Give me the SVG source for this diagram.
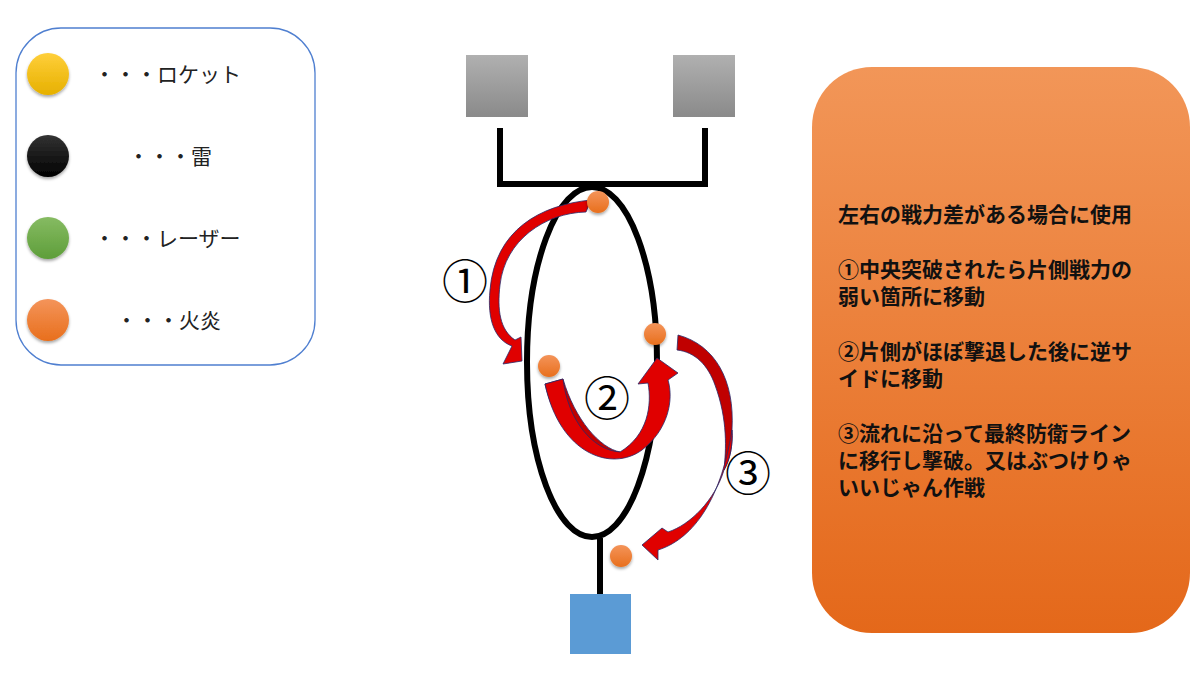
<svg xmlns="http://www.w3.org/2000/svg" width="1200" height="675" viewBox="0 0 1200 675">
<defs>
<linearGradient id="gy" x1="0" y1="0" x2="0" y2="1"><stop offset="0" stop-color="#ffcf3a"/><stop offset="1" stop-color="#e6b000"/></linearGradient>
<linearGradient id="gk" x1="0" y1="0" x2="0" y2="1"><stop offset="0" stop-color="#333"/><stop offset="1" stop-color="#000"/></linearGradient>
<linearGradient id="gg" x1="0" y1="0" x2="0" y2="1"><stop offset="0" stop-color="#86bb62"/><stop offset="1" stop-color="#5e9e3a"/></linearGradient>
<linearGradient id="go" x1="0" y1="0" x2="0" y2="1"><stop offset="0" stop-color="#f4945a"/><stop offset="1" stop-color="#e86f1c"/></linearGradient>
<linearGradient id="gbox" x1="0" y1="0" x2="0" y2="1"><stop offset="0" stop-color="#f29658"/><stop offset="1" stop-color="#e4681a"/></linearGradient>
<linearGradient id="gsq" x1="0" y1="0" x2="0" y2="1"><stop offset="0" stop-color="#b0b0b0"/><stop offset="1" stop-color="#8a8a8a"/></linearGradient>
<filter id="sh" x="-30%" y="-30%" width="160%" height="170%"><feDropShadow dx="0" dy="2" stdDeviation="1.5" flood-opacity="0.35"/></filter>
</defs>
<style>
.t{font-family:"Noto Sans CJK JP","Noto Sans",sans-serif;font-size:21px;fill:#222}
.b{font-family:"Noto Sans CJK JP",sans-serif;font-size:21px;font-weight:bold;fill:#111}
.n{font-family:"Noto Sans CJK JP",sans-serif;font-size:46px;fill:#000}
.arr{fill:#e00000;stroke:#2a2a6a;stroke-width:0.8}
.dk{fill:#c00000;stroke:#2a2a6a;stroke-width:0.8}
.dot{fill:url(#go);filter:url(#sh)}
</style>
<g id="legend">
<rect x="16" y="28" width="299" height="337" rx="45" fill="#fff" stroke="#4f7fd0" stroke-width="1.3"/>
<circle cx="48" cy="74" r="21" fill="url(#gy)" filter="url(#sh)"/>
<circle cx="48" cy="156" r="21" fill="url(#gk)" filter="url(#sh)"/>
<circle cx="48" cy="238" r="21" fill="url(#gg)" filter="url(#sh)"/>
<circle cx="48" cy="320" r="21" fill="url(#go)" filter="url(#sh)"/>
<text class="t" x="94" y="82">・・・ロケット</text>
<text class="t" x="128" y="164">・・・雷</text>
<text class="t" x="94" y="246">・・・レーザー</text>
<text class="t" x="116" y="328">・・・火炎</text>
</g>
<g id="info">
<rect x="812" y="67" width="378" height="566" rx="60" fill="url(#gbox)"/>
<text class="b" x="838" y="222">左右の戦力差がある場合に使用</text>
<text class="b" x="838" y="277">①中央突破されたら片側戦力の</text>
<text class="b" x="838" y="304">弱い箇所に移動</text>
<text class="b" x="838" y="359">②片側がほぼ撃退した後に逆サ</text>
<text class="b" x="838" y="386">イドに移動</text>
<text class="b" x="838" y="441">③流れに沿って最終防衛ライン</text>
<text class="b" x="838" y="468">に移行し撃破。又はぶつけりゃ</text>
<text class="b" x="838" y="495">いいじゃん作戦</text>
</g>
<g id="formation">
<rect id="sqL" x="466" y="55" width="62" height="62" fill="url(#gsq)"/>
<rect id="sqR" x="673" y="55" width="62" height="62" fill="url(#gsq)"/>
<rect id="sqB" x="570" y="594" width="61" height="60" fill="#5b9bd5"/>
<path d="M500 128V184H705V128" fill="none" stroke="#000" stroke-width="6"/>
<line x1="600" y1="538" x2="600" y2="594" stroke="#000" stroke-width="6"/>
<ellipse cx="592" cy="362" rx="65" ry="175" fill="none" stroke="#000" stroke-width="6"/>
</g>
<g id="connectors">
<path class="arr" d="M591 200 C540 205 495 230 490 290 C487 320 495 340 512 346 L503 364 L522 361 L521 337 L515 340 C500 330 497 310 500 285 C505 240 545 213 586 212 Z"/>
<path class="dk" d="M545 384 L563 379 C575 420 600 448 620 452 C598 460 558 440 545 384 Z"/>
<path class="arr" d="M545 384 C560 455 612 472 642 450 C668 430 674 400 668 380 L678 373 L657 358 L638 384 L648 383 C652 405 648 435 620 452 C592 450 568 420 563 379 Z"/>
<path class="dk" d="M678 335 C715 345 735 380 732 430 C733 445 730 460 724 470 C726 450 728 420 715 385 C708 365 695 352 677 350 Z"/>
<path class="arr" d="M724 470 C715 500 690 525 668 532 L662 528 L642 545 L658 560 L658 550 C690 540 720 505 732 430 C733 445 730 460 724 470 Z"/>
</g>
<g id="labels">
<text class="n" x="465" y="298" text-anchor="middle">①</text>
<text class="n" x="607" y="415" text-anchor="middle">②</text>
<text class="n" x="748" y="490" text-anchor="middle">③</text>
</g>
<g id="units">
<circle class="dot" cx="598" cy="202" r="11"/>
<circle class="dot" cx="655" cy="334" r="11"/>
<circle class="dot" cx="549" cy="366" r="11"/>
<circle class="dot" cx="621" cy="556" r="11"/>
</g>
</svg>
